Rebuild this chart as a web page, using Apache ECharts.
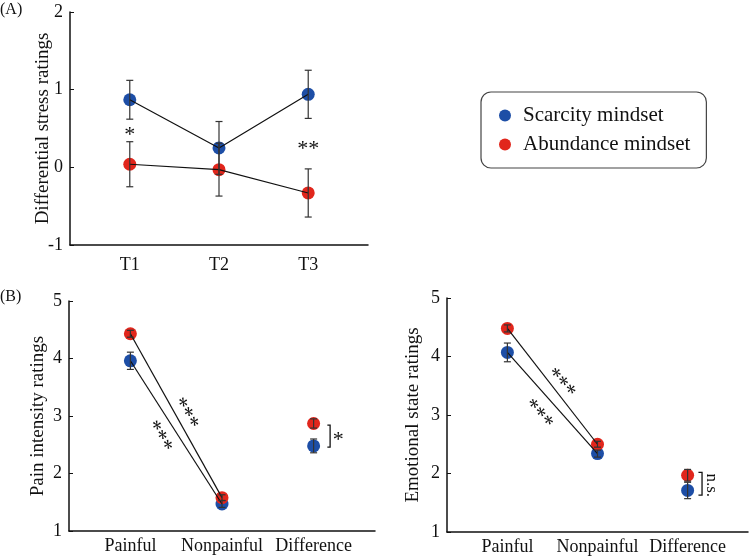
<!DOCTYPE html>
<html>
<head>
<meta charset="utf-8">
<script src="https://cdn.jsdelivr.net/npm/echarts@6/dist/echarts.min.js"></script>
<style>
  html, body { margin: 0; padding: 0; background: #fff; }
  #chart { width: 750px; height: 558px; }
</style>
</head>
<body>
<div id="chart"></div>
<script>
// panel A: differential stress
var stressCats = ["T1", "T2", "T3"];
var stressScarcity = [0.87, 0.25, 0.94];
var stressScarcityErr = [0.25, 0.34, 0.31];
var stressAbundance = [0.04, -0.03, -0.33];
var stressAbundanceErr = [0.29, 0.34, 0.31];

// panel B: pain intensity / emotional state
var ratingCats = ["Painful", "Nonpainful", "Difference"];
var painScarcity = [3.96, 1.47, 2.48];
var painScarcityErr = [0.15, 0.06, 0.12];
var painAbundance = [4.43, 1.58, 2.87];
var painAbundanceErr = [0.06, 0.05, 0.08];
var emoScarcity = [4.07, 2.34, 1.71];
var emoScarcityErr = [0.16, 0.06, 0.14];
var emoAbundance = [4.48, 2.5, 1.97];
var emoAbundanceErr = [0.06, 0.05, 0.1];

// significance marks, in data units: [grid, x, y, rotation deg, text]
var stars = [
  [0, 1, 0.46, 0, "*"],
  [0, 3, 0.28, 0, "**"],
  [1, 1.63, 3.07, -60, "***"],
  [1, 1.345, 2.67, -60, "***"],
  [1, 3.27, 2.65, 0, "*"],
  [2, 1.62, 3.58, -48, "***"],
  [2, 1.37, 3.05, -48, "***"],
  [2, 3.26, 1.8, -90, "n.s."]
];
// brackets: [grid, x0, x1, yTop, yBottom]
var brackets = [
  [1, 3.15, 3.18, 2.84, 2.46],
  [2, 3.12, 3.16, 2.02, 1.63]
];

var FONT = "Liberation Serif";
var BLUE = "#1d4ea6";
var RED = "#e1261c";
var INK = "#111";

var myChart = echarts.init(document.getElementById("chart"));

function xAxisFor(gridIndex, cats) {
  return {
    type: "value",
    gridIndex: gridIndex,
    min: 0.33,
    max: 3.67,
    axisLine: { show: true, onZero: false, lineStyle: { color: INK, width: 1.5 } },
    axisTick: { show: false },
    splitLine: { show: false },
    axisLabel: {
      customValues: [1, 2, 3],
      formatter: function (v) { return cats[Math.round(v) - 1]; },
      fontFamily: FONT,
      fontSize: 18,
      color: INK,
      margin: gridIndex === 0 ? 11 : 6
    }
  };
}

function yAxisFor(gridIndex, min, max, name, gap) {
  return {
    type: "value",
    gridIndex: gridIndex,
    min: min,
    max: max,
    interval: 1,
    name: name,
    nameLocation: "middle",
    nameGap: gap,
    nameMoveOverlap: false,
    nameTextStyle: { fontFamily: FONT, fontSize: 19, color: INK },
    axisLine: { show: true, onZero: false, lineStyle: { color: INK, width: 1.5 } },
    axisTick: { show: true, inside: true, length: 4, lineStyle: { color: INK } },
    splitLine: { show: false },
    axisLabel: { fontFamily: FONT, fontSize: 18, color: INK, margin: 7 }
  };
}

function pairs(vals) {
  return vals.map(function (v, i) { return [i + 1, v]; });
}

function errData(vals, errs) {
  return vals.map(function (v, i) { return [i + 1, v - errs[i], v + errs[i]]; });
}

function errorSeries(gridIndex, vals, errs) {
  return {
    type: "custom",
    xAxisIndex: gridIndex,
    yAxisIndex: gridIndex,
    silent: true,
    z: 4,
    data: errData(vals, errs),
    renderItem: function (params, api) {
      var lo = api.coord([api.value(0), api.value(1)]);
      var hi = api.coord([api.value(0), api.value(2)]);
      var w = 3.5;
      var st = { stroke: "#333", lineWidth: 1.2 };
      return {
        type: "group",
        children: [
          { type: "line", shape: { x1: lo[0], y1: lo[1], x2: hi[0], y2: hi[1] }, style: st },
          { type: "line", shape: { x1: lo[0] - w, y1: lo[1], x2: lo[0] + w, y2: lo[1] }, style: st },
          { type: "line", shape: { x1: hi[0] - w, y1: hi[1], x2: hi[0] + w, y2: hi[1] }, style: st }
        ]
      };
    }
  };
}

function panelSeries(gridIndex, sc, scErr, ab, abErr, linkCount) {
  var out = [];
  out.push({ type: "scatter", name: "Scarcity mindset", xAxisIndex: gridIndex, yAxisIndex: gridIndex,
    data: pairs(sc), symbolSize: 13, itemStyle: { color: BLUE, opacity: 1 }, z: 2 });
  out.push({ type: "scatter", name: "Abundance mindset", xAxisIndex: gridIndex, yAxisIndex: gridIndex,
    data: pairs(ab), symbolSize: 13, itemStyle: { color: RED, opacity: 1 }, z: 2 });
  [sc, ab].forEach(function (vals) {
    out.push({ type: "line", xAxisIndex: gridIndex, yAxisIndex: gridIndex, silent: true,
      data: pairs(vals).slice(0, linkCount), symbol: "none", z: 3,
      lineStyle: { color: INK, width: 1.2 } });
  });
  out.push(errorSeries(gridIndex, sc, scErr));
  out.push(errorSeries(gridIndex, ab, abErr));
  return out;
}

function markSeries(gridIndex) {
  var marks = stars.filter(function (s) { return s[0] === gridIndex; });
  var brs = brackets.filter(function (b) { return b[0] === gridIndex; });
  var list = [{
    type: "custom",
    xAxisIndex: gridIndex,
    yAxisIndex: gridIndex,
    silent: true,
    z: 5,
    data: marks.map(function (s) { return [s[1], s[2]]; }),
    renderItem: function (params, api) {
      var s = marks[params.dataIndex];
      var p = api.coord([s[1], s[2]]);
      var isStar = s[4].indexOf("*") >= 0;
      return {
        type: "text",
        x: p[0],
        y: p[1],
        rotation: s[3] * Math.PI / 180,
        style: {
          text: s[4],
          x: 0,
          y: isStar ? 4 : 0,
          fontFamily: FONT,
          fontSize: isStar ? 22 : 17,
          fill: INK,
          align: "center",
          verticalAlign: "middle"
        }
      };
    }
  }];
  if (brs.length) {
    list.push({
      type: "custom",
      xAxisIndex: gridIndex,
      yAxisIndex: gridIndex,
      silent: true,
      z: 5,
      data: brs.map(function (b) { return [b[1], b[3]]; }),
      renderItem: function (params, api) {
        var b = brs[params.dataIndex];
        var a = api.coord([b[1], b[3]]);
        var c = api.coord([b[2], b[4]]);
        return {
          type: "polyline",
          shape: { points: [[a[0], a[1]], [c[0], a[1]], [c[0], c[1]], [a[0], c[1]]] },
          style: { stroke: INK, lineWidth: 1.3, fill: null }
        };
      }
    });
  }
  return list;
}

var option = {
  animation: false,
  backgroundColor: "#fff",
  grid: [
    { left: 70, top: 12, width: 298, height: 233 },
    { left: 69, top: 301, width: 306, height: 230 },
    { left: 447, top: 298, width: 301, height: 234 }
  ],
  legend: {
    orient: "vertical",
    left: 481,
    top: 92,
    data: ["Scarcity mindset", "Abundance mindset"],
    icon: "circle",
    itemWidth: 12,
    itemHeight: 12,
    itemGap: 8,
    borderColor: "#444",
    borderWidth: 1.2,
    borderRadius: 10,
    padding: [13, 16, 13, 18],
    textStyle: { fontFamily: FONT, fontSize: 21, color: INK, padding: [0, 0, 0, 7] }
  },
  graphic: [
    { type: "text", left: 0, top: 2, style: { text: "(A)", fontFamily: FONT, fontSize: 16, fill: INK } },
    { type: "text", left: 0, top: 289, style: { text: "(B)", fontFamily: FONT, fontSize: 16, fill: INK } }
  ],
  xAxis: [xAxisFor(0, stressCats), xAxisFor(1, ratingCats), xAxisFor(2, ratingCats)],
  yAxis: [
    yAxisFor(0, -1, 2, "Differential stress ratings", 17),
    yAxisFor(1, 1, 5, "Pain intensity ratings", 21),
    yAxisFor(2, 1, 5, "Emotional state ratings", 24)
  ],
  series: []
    .concat(panelSeries(0, stressScarcity, stressScarcityErr, stressAbundance, stressAbundanceErr, 3))
    .concat(panelSeries(1, painScarcity, painScarcityErr, painAbundance, painAbundanceErr, 2))
    .concat(panelSeries(2, emoScarcity, emoScarcityErr, emoAbundance, emoAbundanceErr, 2))
    .concat(markSeries(0))
    .concat(markSeries(1))
    .concat(markSeries(2))
};

// 绘制图表
myChart.setOption(option);
</script>
</body>
</html>
